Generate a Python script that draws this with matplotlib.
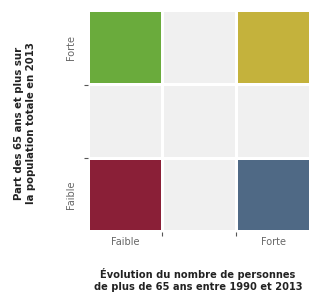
import matplotlib.pyplot as plt
from matplotlib.transforms import blended_transform_factory

# 3x3 grid, rows from bottom (Faible) to top (Forte)
cols = ["Faible", "", "Forte"]
rows = ["Faible", "", "Forte"]
cell_colors = [
    ["#8a1f37", "#f0f0f0", "#4f6985"],   # bas
    ["#f0f0f0", "#f0f0f0", "#f0f0f0"],   # milieu
    ["#6aab3c", "#f0f0f0", "#c4b23c"],   # haut
]

xlabel = "Évolution du nombre de personnes\nde plus de 65 ans entre 1990 et 2013"
ylabel = "Part des 65 ans et plus sur\nla population totale en 2013"

fam = ["Liberation Sans Narrow", "DejaVu Sans"]
plt.rcParams['font.family'] = fam

fig = plt.figure(figsize=(3.09, 3.00), dpi=100)
ax = fig.add_axes([0.285, 0.227, 0.72, 0.737])

for r, row in enumerate(cell_colors):
    ax.bar(range(len(row)), [0.96] * len(row), bottom=[r - 0.48] * len(row),
           width=0.96, color=row, linewidth=0)

ax.set_xlim(-0.5, 2.5)
ax.set_ylim(-0.5, 2.5)
for s in ax.spines.values():
    s.set_visible(False)

ax.set_xticks([0.5, 1.5])
ax.set_yticks([0.5, 1.5])
ax.set_xticklabels([])
ax.set_yticklabels([])
ax.tick_params(length=3, width=0.8, color="#555555", pad=1)

tx = blended_transform_factory(ax.transData, ax.transAxes)
ty = blended_transform_factory(ax.transAxes, ax.transData)
for i, lab in enumerate(cols):
    if lab:
        ax.text(i, -0.025, lab, transform=tx, ha="center", va="top",
                fontsize=7, color="#666666")
for i, lab in enumerate(rows):
    if lab:
        ax.text(-0.055, i, lab, transform=ty, ha="right", va="center",
                rotation=90, fontsize=7, color="#666666")

fig.text(0.64, 0.065, xlabel, ha="center", va="center", fontsize=7.1,
         fontweight="bold", color="#222222", linespacing=1.25)
fig.text(0.08, 0.59, ylabel, ha="center", va="center", rotation=90,
         fontsize=7.3, fontweight="bold", color="#222222", linespacing=1.3)

fig.savefig("out.png", dpi=100, facecolor="white")
